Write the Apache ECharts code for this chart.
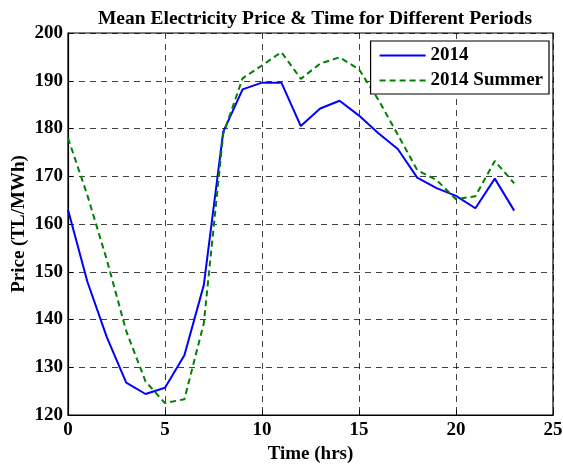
<!DOCTYPE html>
<html>
<head>
<meta charset="utf-8">
<script src="https://cdn.jsdelivr.net/npm/echarts@6/dist/echarts.min.js"></script>
<style>html,body{margin:0;padding:0;background:#fff;}#c{width:563px;height:464px;}</style>
</head>
<body>
<div id="c"></div>
<script>
const hours = [0,1,2,3,4,5,6,7,8,9,10,11,12,13,14,15,16,17,18,19,20,21,22,23];
const price2014 = [163.0,147.9,136.3,126.8,124.4,125.7,132.5,147.2,179.3,188.2,189.6,189.6,180.5,184.2,185.8,182.7,179.0,175.7,169.7,167.5,165.9,163.3,169.5,162.8];
const price2014Summer = [178.0,166.0,152.5,137.6,127.0,122.5,123.3,139.2,178.8,190.5,193.2,196.0,190.4,193.6,194.9,192.4,186.0,178.7,171.3,169.2,165.2,165.8,173.2,168.5];
const seriesNames = ['2014','2014 Summer'];
const xTicks = {min:0,max:25,interval:5};
const yTicks = {min:120,max:200,interval:10};

const font = '"Liberation Serif","Times New Roman",serif';
const chart = echarts.init(document.getElementById('c'));
const pairs = arr => hours.map((h,i)=>[h,arr[i]]);
chart.setOption({
  animation:false,
  backgroundColor:'#fff',
  title:{text:'Mean Electricity Price & Time for Different Periods',left:310,textAlign:'center',top:4,
    textStyle:{fontFamily:font,fontWeight:'bold',fontSize:19.5,color:'#000'}},
  grid:{left:68,right:10,top:33,bottom:49,containLabel:false,outerBoundsMode:'none',
    show:true,borderColor:'#000',borderWidth:1.2,backgroundColor:'#fff'},
  legend:{orient:'vertical',right:14,top:41,backgroundColor:'#fff',borderColor:'#000',borderWidth:1.2,
    padding:[5,6,4,8],itemGap:6,itemWidth:46,itemHeight:14,
    itemStyle:{opacity:0},
    textStyle:{fontFamily:font,fontWeight:'bold',fontSize:19,color:'#000'},
    data:seriesNames},
  xAxis:{type:'value',min:xTicks.min,max:xTicks.max,interval:xTicks.interval,
    name:'Time (hrs)',nameLocation:'middle',nameGap:28,
    nameTextStyle:{fontFamily:font,fontWeight:'bold',fontSize:19,color:'#000'},
    axisLine:{show:true,lineStyle:{color:'#000',width:1.2}},
    axisTick:{show:true,inside:true,length:5,lineStyle:{color:'#000'}},
    axisLabel:{fontFamily:font,fontWeight:'bold',fontSize:19,color:'#000',margin:6},
    splitLine:{show:true,lineStyle:{color:'#000',width:1,type:[6,5],opacity:0.75}}},
  yAxis:{type:'value',min:yTicks.min,max:yTicks.max,interval:yTicks.interval,
    name:'Price (TL/MWh)',nameLocation:'middle',nameGap:39,nameRotate:90,nameMoveOverlap:false,
    nameTextStyle:{fontFamily:font,fontWeight:'bold',fontSize:19,color:'#000'},
    axisLine:{show:true,lineStyle:{color:'#000',width:1.2}},
    axisTick:{show:true,inside:true,length:5,lineStyle:{color:'#000'}},
    axisLabel:{fontFamily:font,fontWeight:'bold',fontSize:19,color:'#000',margin:5},
    splitLine:{show:true,lineStyle:{color:'#000',width:1,type:[6,5],opacity:0.75}}},
  series:[
    {name:seriesNames[0],type:'line',data:pairs(price2014),symbol:'none',
      lineStyle:{color:'#0000ff',width:2},itemStyle:{color:'#0000ff'}},
    {name:seriesNames[1],type:'line',data:pairs(price2014Summer),symbol:'none',
      lineStyle:{color:'#008000',width:2,type:[6,4]},itemStyle:{color:'#008000'}}
  ]
});
</script>
</body>
</html>
